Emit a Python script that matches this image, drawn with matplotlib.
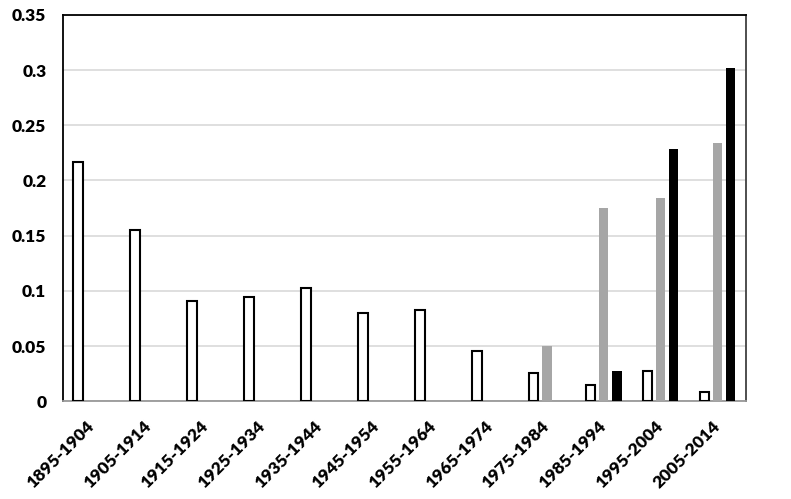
import matplotlib
matplotlib.use("Agg")
import matplotlib.pyplot as plt
import numpy as np

# --- data ---
periods = ["1895-1904", "1905-1914", "1915-1924", "1925-1934", "1935-1944",
           "1945-1954", "1955-1964", "1965-1974", "1975-1984", "1985-1994",
           "1995-2004", "2005-2014"]
series_white = [0.217, 0.155, 0.091, 0.0946, 0.1027, 0.0795, 0.0822, 0.0456,
                0.0251, 0.0148, 0.0275, 0.0082]
series_gray = [0, 0, 0.0005, 0.0005, 0, 0, 0, 0.0005, 0.0501, 0.175, 0.184, 0.234]
series_black = [0, 0, 0, 0, 0, 0, 0, 0, 0, 0.0278, 0.2285, 0.302]
yticks = [0, 0.05, 0.1, 0.15, 0.2, 0.25, 0.3, 0.35]
ytick_labels = ["0", "0.05", "0.1", "0.15", "0.2", "0.25", "0.3", "0.35"]

plt.rcParams["font.family"] = ["Lato", "DejaVu Sans"]

fig = plt.figure(figsize=(7.91, 4.99), dpi=100)
ax = fig.add_axes([0.0796, 0.196, 0.8634, 0.774])

x = np.arange(len(periods))
w = 0.17
off = 0.23
ax.bar(x - off, series_white, width=w, facecolor="white", edgecolor="black",
       linewidth=1.5, zorder=3)
ax.bar(x, series_gray, width=w, color="#a6a6a6", zorder=3)
ax.bar(x + off, series_black, width=w, color="black", zorder=3)

ax.set_xlim(-0.5, len(periods) - 0.5)
ax.set_ylim(0, 0.35)
ax.set_yticks(yticks)
ax.set_yticklabels(ytick_labels, fontsize=12.5, fontweight="heavy")
ax.set_xticks(x)
ax.set_xticklabels(periods, rotation=45, ha="right", va="center",
                   rotation_mode="anchor", fontsize=12.5, fontweight="heavy")
ax.tick_params(axis="both", length=0)
ax.tick_params(axis="y", pad=12)
ax.tick_params(axis="x", pad=16)

ax.grid(axis="y", color="#d9d9d9", linewidth=1.2, zorder=0)
ax.set_axisbelow(True)
for side in ["left", "top"]:
    ax.spines[side].set_color("black")
    ax.spines[side].set_linewidth(1.3)
ax.spines["right"].set_color("#404040")
ax.spines["right"].set_linewidth(1.3)
ax.spines["bottom"].set_color("#999999")
ax.spines["bottom"].set_linewidth(1.3)

fig.savefig("out.png", dpi=100)
